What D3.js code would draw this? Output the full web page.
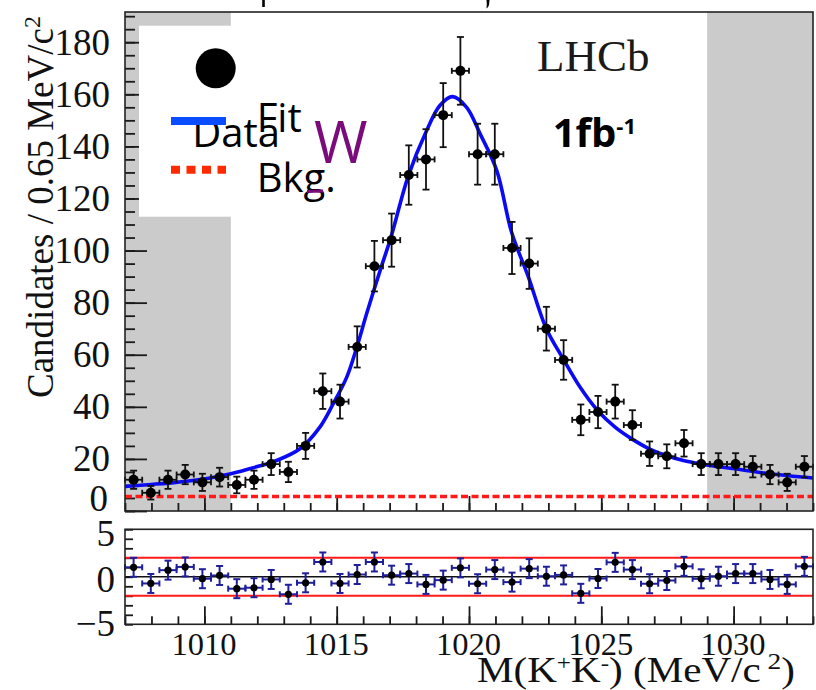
<!DOCTYPE html>
<html><head><meta charset="utf-8">
<script src="https://cdn.jsdelivr.net/npm/d3@7"></script>
<style>body{margin:0;background:#fff}</style>
</head><body>
<svg id="c" width="816" height="690"></svg>
<script>
// ---------------- data ----------------
const binCenters = [1007.325,1007.975,1008.625,1009.275,1009.925,1010.575,1011.225,1011.875,1012.525,1013.175,
  1013.825,1014.475,1015.125,1015.775,1016.425,1017.075,1017.725,1018.375,1019.025,1019.675,
  1020.325,1020.975,1021.625,1022.275,1022.925,1023.575,1024.225,1024.875,1025.525,1026.175,
  1026.825,1027.475,1028.125,1028.775,1029.425,1030.075,1030.725,1031.375,1032.025,1032.675];
const counts = [12,7,12,14,11,13,10,12,18,15,25,46,42,63,94,104,129,135,152,169,
  137,137,101,95,70,58,35,38,42,33,22,21,26,18,18,18,17,14,11,17];
const countErrors = [3.5,2.6,3.5,3.7,3.3,3.6,3.2,3.5,4.2,3.9,5.0,6.8,6.5,7.9,9.7,10.2,11.4,11.6,12.3,13.0,
  11.7,11.7,10.0,9.7,8.4,7.6,5.9,6.2,6.5,5.7,4.7,4.6,5.1,4.2,4.2,4.2,4.1,3.7,3.3,4.1];
const pulls = [1.0,-0.7,0.7,1.04,-0.2,0.14,-1.25,-1.15,-0.28,-1.84,-0.63,1.56,-0.7,0.24,1.56,0.17,0.34,-0.8,-0.35,0.94,
  -0.73,0.76,-0.56,0.86,0.06,0.2,-1.74,-0.18,1.52,0.76,-0.73,-0.39,1.1,-0.21,0.06,0.34,0.34,-0.28,-0.8,1.1];
const pullErrors = [1,1,1,1,1,1,1,1,1,1,1,1,1,1,1,1,1,1,1,1,1,1,1,1,1,1,1,1,1,1,1,1,1,1,1,1,1,1,1,1];
const binHalfWidth = 0.325;
const fitX = [1007.0,1008.0,1009.0,1010.0,1011.0,1011.85,1012.73,1013.61,1014.35,1014.87,1015.38,1015.76,1016.13,
  1016.64,1017.05,1017.71,1018.40,1018.90,1019.38,1019.91,1020.42,1021.05,1021.61,1022.24,1022.91,1023.56,
  1024.20,1024.86,1025.52,1026.15,1026.81,1027.45,1028.10,1028.76,1030.03,1031.35,1033.0];
const fitY = [9.4,10.2,11.1,12.3,14.3,16.6,19.4,23.9,32.0,41.2,51.4,62.9,75.7,
  92.3,105.1,128.8,146.1,155.7,159.1,155.0,144.8,130.7,107.0,90.0,70.3,58.4,
  47.5,38.6,32.2,27.7,23.9,21.3,19.4,18.1,16.2,14.3,12.7];
const bkgX = [1007, 1033];
const bkgY = [5.6, 5.6];
const sidebandLo = [1007, 1011];
const sidebandHi = [1029, 1033];
const pullBands = [-2, 2];
const pullTickLabels = [-5, 0, 5];
const yTitle = "Candidates / 0.65 MeV/c";
const legendLabels = ["Fit", "Data", "Bkg."];

// ---------------- scales ----------------
const svg = d3.select("#c");
const x = d3.scaleLinear().domain([1007, 1033]).range([125, 813]);
const y = d3.scaleLinear().domain([0, 191.6]).range([511, 12]);
const py = d3.scaleLinear().domain([-5, 5]).range([624.3, 529.3]);
const tickCol = "#1a1a1a";
const serif = "'Liberation Serif','Times New Roman',serif";
const sans = "'Open Sans',sans-serif";

svg.append("rect").attr("width", 816).attr("height", 690).attr("fill", "#fff");

// sidebands
[sidebandLo, sidebandHi].forEach(s => {
  svg.append("rect").attr("x", x(s[0])).attr("y", y(191.6))
    .attr("width", x(s[1]) - x(s[0])).attr("height", y(0) - y(191.6)).attr("fill", "#cbcbcb");
});

function styleAxis(g, w) {
  g.select(".domain").remove();
  g.selectAll(".tick line").attr("stroke", tickCol).attr("stroke-width", w || 1.8);
}

// main axes ticks
svg.append("g").attr("transform", `translate(0,${y(0)})`)
  .call(d3.axisBottom(x).tickValues(x.ticks(26)).tickSize(-8).tickFormat(""))
  .call(g => styleAxis(g));
svg.append("g").attr("transform", `translate(0,${y(0)})`)
  .call(d3.axisBottom(x).tickValues(x.ticks(5)).tickSize(-15).tickFormat(""))
  .call(g => styleAxis(g));
svg.append("g").attr("transform", `translate(${x(1007)},0)`)
  .call(d3.axisLeft(y).tickValues(y.ticks(38)).tickSize(-10).tickFormat(""))
  .call(g => styleAxis(g));
svg.append("g").attr("transform", `translate(${x(1007)},0)`)
  .call(d3.axisLeft(y).tickValues(y.ticks(10)).tickSize(-22).tickFormat(""))
  .call(g => styleAxis(g));

// legend box
svg.append("rect").attr("x", 139).attr("y", 25.7).attr("width", 195).attr("height", 191).attr("fill", "#fff");

// main y labels
const yl = svg.append("g").attr("transform", `translate(${x(1007)},0)`)
  .call(d3.axisLeft(y).tickValues(y.ticks(10)).tickSize(0).tickPadding(15).tickFormat(d3.format("d")));
yl.select(".domain").remove();
yl.selectAll("text").attr("font-family", serif).attr("font-size", 37).attr("fill", "#111")
  .attr("transform", d => d === 0 ? "translate(-2,-12.5)" : null);

// background and fit
const line = d3.line().x(d => x(d[0])).y(d => y(d[1]));
svg.append("path").datum(d3.zip(bkgX, bkgY)).attr("d", line)
  .attr("fill", "none").attr("stroke", "#ff1a1a").attr("stroke-width", 3.5).attr("stroke-dasharray", "7,3.5");
const fitLine = d3.line().x(d => x(d[0])).y(d => y(d[1])).curve(d3.curveCatmullRom.alpha(0.5));
svg.append("path").datum(d3.zip(fitX, fitY)).attr("d", fitLine)
  .attr("fill", "none").attr("stroke", "#0a0af5").attr("stroke-width", 3.6);

// data points
const pts = svg.append("g");
binCenters.forEach((c, i) => {
  const n = counts[i], e = countErrors[i];
  const cx = x(c), cy = y(n);
  const g = pts.append("g").attr("stroke", "#111").attr("stroke-width", 1.8);
  g.append("line").attr("x1", cx).attr("x2", cx).attr("y1", y(n - e)).attr("y2", y(n + e));
  [n - e, n + e].forEach(v => g.append("line").attr("x1", cx - 3.5).attr("x2", cx + 3.5).attr("y1", y(v)).attr("y2", y(v)));
  g.append("line").attr("x1", x(c - binHalfWidth)).attr("x2", x(c + binHalfWidth)).attr("y1", cy).attr("y2", cy);
  [c - binHalfWidth, c + binHalfWidth].forEach(v => g.append("line").attr("x1", x(v)).attr("x2", x(v)).attr("y1", cy - 3).attr("y2", cy + 3));
  pts.append("circle").attr("cx", cx).attr("cy", cy).attr("r", 5).attr("fill", "#000");
});

// main frame
svg.append("rect").attr("x", x(1007)).attr("y", y(191.6)).attr("width", x(1033) - x(1007))
  .attr("height", y(0) - y(191.6)).attr("fill", "none").attr("stroke", "#222").attr("stroke-width", 1.6);

// ---------------- pull plot ----------------
svg.append("g").attr("transform", `translate(0,${py(-5)})`)
  .call(d3.axisBottom(x).tickValues(x.ticks(26)).tickSize(-8).tickFormat(""))
  .call(g => styleAxis(g));
svg.append("g").attr("transform", `translate(0,${py(-5)})`)
  .call(d3.axisBottom(x).tickValues(x.ticks(5)).tickSize(-18).tickFormat(""))
  .call(g => styleAxis(g));
svg.append("g").attr("transform", `translate(${x(1007)},0)`)
  .call(d3.axisLeft(py).tickValues(py.ticks(10)).tickSize(-8).tickFormat(""))
  .call(g => styleAxis(g));

pullBands.forEach(b => svg.append("line").attr("x1", x(1007)).attr("x2", x(1033)).attr("y1", py(b)).attr("y2", py(b))
  .attr("stroke", "#ff1a1a").attr("stroke-width", 2));
svg.append("line").attr("x1", x(1007)).attr("x2", x(1033)).attr("y1", py(0)).attr("y2", py(0))
  .attr("stroke", "#111").attr("stroke-width", 1.6);

const pp = svg.append("g");
binCenters.forEach((c, i) => {
  const p = pulls[i], e = pullErrors[i];
  const cx = x(c), cy = py(p);
  const g = pp.append("g").attr("stroke", "#1f1f9c").attr("stroke-width", 2);
  g.append("line").attr("x1", cx).attr("x2", cx).attr("y1", py(p - e)).attr("y2", py(p + e));
  [p - e, p + e].forEach(v => g.append("line").attr("x1", cx - 3.5).attr("x2", cx + 3.5).attr("y1", py(v)).attr("y2", py(v)));
  g.append("line").attr("x1", x(c - binHalfWidth)).attr("x2", x(c + binHalfWidth)).attr("y1", cy).attr("y2", cy);
  [c - binHalfWidth, c + binHalfWidth].forEach(v => g.append("line").attr("x1", x(v)).attr("x2", x(v)).attr("y1", cy - 3).attr("y2", cy + 3));
  pp.append("circle").attr("cx", cx).attr("cy", cy).attr("r", 3.6).attr("fill", "#000");
});

svg.append("rect").attr("x", x(1007)).attr("y", py(5)).attr("width", x(1033) - x(1007))
  .attr("height", py(-5) - py(5)).attr("fill", "none").attr("stroke", "#222").attr("stroke-width", 1.6);

// pull y labels
const pyl = svg.append("g").attr("transform", `translate(${x(1007)},0)`)
  .call(d3.axisLeft(py).tickValues(pullTickLabels).tickSize(0).tickPadding(10).tickFormat(d3.format("d")));
pyl.select(".domain").remove();
const pullShift = {"5": 4, "0": 3, "-5": -1};
pyl.selectAll("text").attr("font-family", serif).attr("font-size", 37).attr("fill", "#111")
  .attr("transform", d => `translate(0,${pullShift[String(d)]})`);

// x labels
const xl = svg.append("g").attr("transform", `translate(0,${py(-5)})`)
  .call(d3.axisBottom(x).tickValues(x.ticks(5)).tickSize(0).tickPadding(8).tickFormat(d3.format("d")));
xl.select(".domain").remove();
xl.selectAll("text").attr("font-family", serif).attr("font-size", 32.5).attr("fill", "#111")
  .attr("transform", "translate(-1,0)");

// axis titles
const yt = svg.append("text").attr("transform", "translate(53,398) rotate(-90)")
  .attr("font-family", serif).attr("font-size", 37).attr("fill", "#111");
yt.append("tspan").text(yTitle);
yt.append("tspan").attr("dy", -13).attr("font-size", 24).text("2");

const xt = svg.append("text").attr("x", 477).attr("y", 682)
  .attr("textLength", 318).attr("lengthAdjust", "spacingAndGlyphs")
  .attr("font-family", serif).attr("font-size", 36).attr("fill", "#111");
xt.append("tspan").text("M(K");
xt.append("tspan").attr("dy", -12).attr("font-size", 22).text("+");
xt.append("tspan").attr("dy", 12).text("K");
xt.append("tspan").attr("dy", -12).attr("font-size", 22).text("-");
xt.append("tspan").attr("dy", 12).text(") (MeV/c");
xt.append("tspan").attr("dy", -13).attr("font-size", 24).text(" 2");
xt.append("tspan").attr("dy", 13).text(")");

// ---------------- annotations / legend ----------------
svg.append("text").attr("x", 537).attr("y", 70.7).attr("font-family", serif).attr("font-size", 45)
  .attr("fill", "#1a1a1a").text("LHCb");
const lumi = svg.append("text").attr("x", 552.7).attr("y", 146.7).attr("font-family", sans)
  .attr("font-weight", "bold").attr("font-size", 40).attr("fill", "#000");
lumi.append("tspan").text("1fb");
lumi.append("tspan").attr("dy", -13).attr("font-size", 22).text("-1");

svg.append("circle").attr("cx", 215.7).attr("cy", 68.3).attr("r", 20).attr("fill", "#000");
svg.append("text").attr("x", 256.7).attr("y", 131.7).attr("font-family", sans).attr("font-size", 40).attr("fill", "#000").text(legendLabels[0]);
svg.append("text").attr("x", 192.3).attr("y", 146.7).attr("font-family", sans).attr("font-size", 40).attr("fill", "#000").text(legendLabels[1]);
svg.append("text").attr("x", 256.7).attr("y", 191.5).attr("font-family", sans).attr("font-size", 40).attr("fill", "#000").text(legendLabels[2]);
svg.append("line").attr("x1", 171).attr("x2", 226).attr("y1", 121).attr("y2", 121).attr("stroke", "#0a4cff").attr("stroke-width", 8);
svg.append("line").attr("x1", 171).attr("x2", 226).attr("y1", 169.7).attr("y2", 169.7).attr("stroke", "#ff2a00")
  .attr("stroke-width", 8).attr("stroke-dasharray", "9,6.5");
svg.append("text").attr("x", 314).attr("y", 163.3).attr("font-family", sans).attr("font-size", 58).attr("fill", "#7b0a7b").text("W");
svg.append("line").attr("x1", 307).attr("x2", 323).attr("y1", 191.5).attr("y2", 191).attr("stroke", "#7b0a7b").attr("stroke-width", 3);

// remnants of glyphs cut by the top edge (drawn as marks)
svg.append("line").attr("x1", 263.5).attr("x2", 263.5).attr("y1", 0).attr("y2", 7).attr("stroke", "#000").attr("stroke-width", 2.6);
svg.append("path").attr("d", "M486.5,0 L489.5,0 L489,5 Q488,8 486.5,8.5 L486.8,4 Z").attr("fill", "#000");
</script>
</body></html>
